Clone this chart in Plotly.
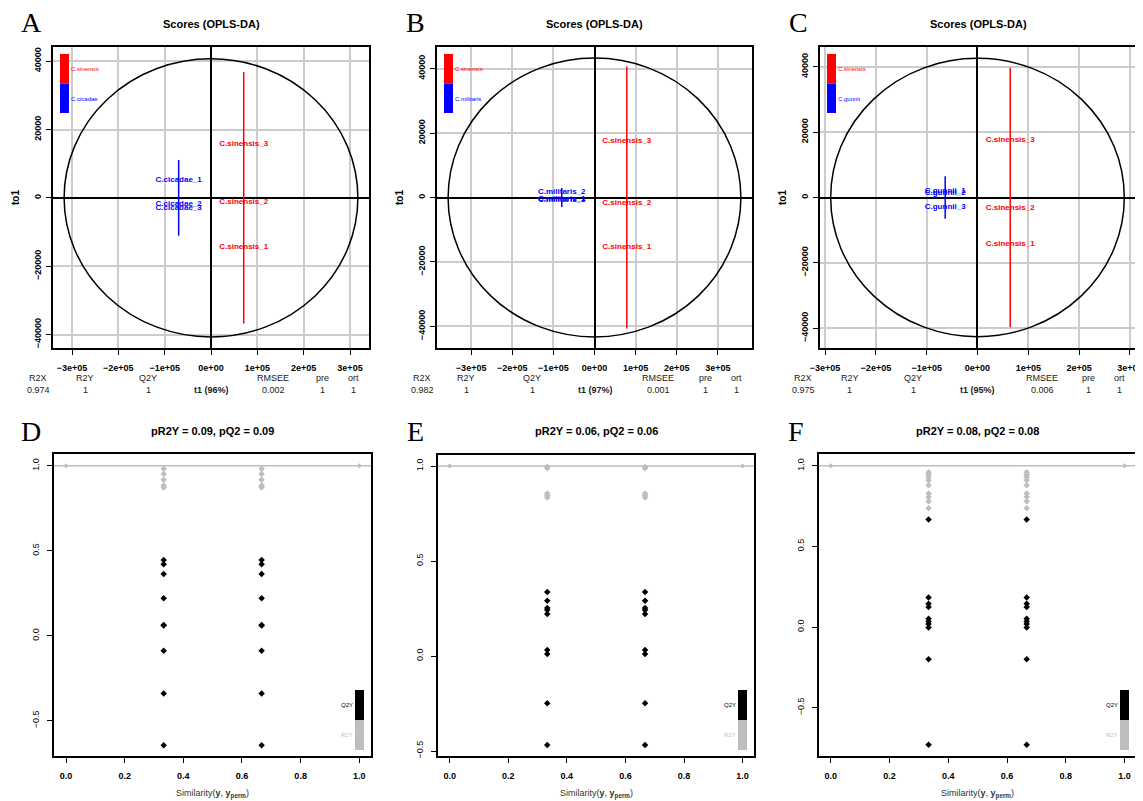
import plotly.graph_objects as go

# page body has an 8px default margin: the figure is drawn 8px in from the top-left
OFF = 8
W, H = 1143 - OFF, 801 - OFF

# ------------------------------------------------------------------ data
panel_letters = ["A", "B", "C", "D", "E", "F"]
ref_group = "C.sinensis"
other_groups = ["C.cicadae", "C.militaris", "C.gunnii"]

# score-plot axis ticks
score_x_ticks = [-300000, -200000, -100000, 0, 100000, 200000, 300000]
score_x_labels = ["−3e+05", "−2e+05", "−1e+05", "0e+00", "1e+05", "2e+05", "3e+05"]
score_y_ticks = [-40000, -20000, 0, 20000, 40000]
score_y_labels = ["−40000", "−20000", "0", "20000", "40000"]

# C.sinensis scores (t1, to1) for panels A, B, C
sin_names = ["C.sinensis_1", "C.sinensis_2", "C.sinensis_3"]
sin_t1_A = [70600, 70600, 70600]
sin_to1_A = [-14300, -1170, 15800]
sin_t1_B = [78600, 78600, 78600]
sin_to1_B = [-15500, -1860, 17460]
sin_t1_C = [64400, 64400, 64400]
sin_to1_C = [-14160, -3270, 17650]

# other-species scores
cic_names = ["C.cicadae_1", "C.cicadae_2", "C.cicadae_3"]
cic_t1 = [-69800, -69800, -69800]
cic_to1 = [5200, -1750, -3100]
mil_names = ["C.militaris_1", "C.militaris_2", "C.militaris_3"]
mil_t1 = [-79600, -79600, -79600]
mil_to1 = [-600, 1640, -900]
gun_names = ["C.gunnii_1", "C.gunnii_2", "C.gunnii_3"]
gun_t1 = [-63600, -63600, -63600]
gun_to1 = [1930, 1430, -2850]

# group ellipses (degenerate: t1 centre, to1 half-height)
sin_ell_t1 = [70600, 78600, 64400]
sin_ell_half = [36800, 40650, 39700]
oth_ell_t1 = [-69800, -79600, -63600]
oth_ell_half = [11100, 2950, 6500]

# Hotelling T2 ellipse half-axes
hot_a = [317000, 356000, 289000]
hot_b = [40700, 43300, 42600]

# model summary
R2X = ["0.974", "0.982", "0.975"]
R2Y = ["1", "1", "1"]
Q2Y = ["1", "1", "1"]
RMSEE = ["0.002", "0.001", "0.006"]
pre = ["1", "1", "1"]
ort = ["1", "1", "1"]
t1_pct = [96, 97, 95]

# permutation tests
pR2Y = ["0.09", "0.06", "0.08"]
pQ2 = ["0.09", "0.06", "0.08"]
perm_sim = [0.333, 0.667]
r2y_perm_D = [0.982, 0.951, 0.917, 0.884, 0.872]
q2y_perm_D = [0.446, 0.421, 0.364, 0.220, 0.063, 0.060, -0.088, -0.340, -0.644]
r2y_perm_E = [0.995, 0.988, 0.855, 0.845, 0.834]
q2y_perm_E = [0.337, 0.291, 0.253, 0.242, 0.221, 0.032, 0.011, -0.249, -0.468]
r2y_perm_F = [0.960, 0.945, 0.930, 0.910, 0.880, 0.828, 0.807, 0.780, 0.737]
q2y_perm_F = [0.667, 0.184, 0.145, 0.124, 0.052, 0.035, 0.019, -0.002, -0.199, -0.729]
model_sim = [0.0, 1.0]
model_r2y = [1.0, 1.0]
perm_x_ticks = [0.0, 0.2, 0.4, 0.6, 0.8, 1.0]
perm_x_labels = ["0.0", "0.2", "0.4", "0.6", "0.8", "1.0"]
perm_y_ticks = [-0.5, 0.0, 0.5, 1.0]
perm_y_labels = ["−0.5", "0.0", "0.5", "1.0"]

# ------------------------------------------------------------------ layout geometry (page pixels)
top_boxes = [(53, 369, 47, 348), (437, 752, 47, 348), (820, 1136, 47, 348)]
bot_boxes = [(54, 371, 454, 756), (438, 754, 455, 756), (819, 1136, 454, 756)]
top_xr = [(-341000, 341000), (-383000, 383000), (-310000, 312000)]
top_yr = [(-43950, 44150), (-46730, 46730), (-46080, 46080)]
bot_xr = [(-0.041, 1.04), (-0.04, 1.039), (-0.04, 1.039)]
bot_yr = [(-0.707, 1.069), (-0.526, 1.058), (-0.799, 1.073)]


def px(x):
    return (x - OFF) / W


def py(y):
    return 1 - (y - OFF) / H


SANS = "Liberation Sans, Arial, sans-serif"
SERIF = "Liberation Serif, Times New Roman, serif"
RED = "#ff0000"
BLUE = "#0000ff"
GRAY = "#bebebe"

fig = go.Figure()
layout = dict(
    width=W, height=H, margin=dict(l=0, r=0, t=0, b=0, autoexpand=False),
    paper_bgcolor="white", plot_bgcolor="white", showlegend=False,
    font=dict(family=SANS, color="black"),
)
shapes = []
annotations = []


def note(x, y, text, size, color="black", family=SANS, xanchor="center", angle=0):
    annotations.append(dict(x=px(x), y=py(y), xref="paper", yref="paper", text=text,
                            showarrow=False, xanchor=xanchor, yanchor="middle", textangle=angle,
                            font=dict(size=size, color=color, family=family)))


sin_t1 = [sin_t1_A, sin_t1_B, sin_t1_C]
sin_to1 = [sin_to1_A, sin_to1_B, sin_to1_C]
oth_names = [cic_names, mil_names, gun_names]
oth_t1 = [cic_t1, mil_t1, gun_t1]
oth_to1 = [cic_to1, mil_to1, gun_to1]

# ---------------- top score plots
for i in range(3):
    k = i + 1
    xa = "x" if k == 1 else f"x{k}"
    ya = "y" if k == 1 else f"y{k}"
    xkey = "xaxis" if k == 1 else f"xaxis{k}"
    ykey = "yaxis" if k == 1 else f"yaxis{k}"
    x0, x1, y0, y1 = top_boxes[i]
    layout[xkey] = dict(
        domain=[px(x0), px(x1)], anchor=ya, range=list(top_xr[i]), automargin=False,
        tickvals=score_x_ticks, ticktext=score_x_labels,
        ticks="outside", ticklen=5, tickcolor="black", tickwidth=1,
        tickfont=dict(size=9, family=SANS, weight="bold", color="black"),
        ticklabelstandoff=5,
        showline=True, linecolor="black", linewidth=1.5, mirror=True,
        showgrid=True, gridcolor="#cccccc", gridwidth=2,
        zeroline=True, zerolinecolor="black", zerolinewidth=1.5,
    )
    layout[ykey] = dict(
        domain=[py(y1), py(y0)], anchor=xa, range=list(top_yr[i]), automargin=False,
        tickvals=score_y_ticks, ticktext=score_y_labels, tickangle=-90,
        ticks="outside", ticklen=5, tickcolor="black", tickwidth=1,
        tickfont=dict(size=9, family=SANS, weight="bold", color="black"),
        ticklabelstandoff=2,
        showline=True, linecolor="black", linewidth=1.5, mirror=True,
        showgrid=True, gridcolor="#cccccc", gridwidth=2,
        zeroline=True, zerolinecolor="black", zerolinewidth=1.5,
    )
    # Hotelling ellipse
    shapes.append(dict(type="circle", xref=xa, yref=ya,
                       x0=-hot_a[i], x1=hot_a[i], y0=-hot_b[i], y1=hot_b[i],
                       line=dict(color="black", width=1.5), layer="above"))
    # group ellipses (degenerate lines)
    fig.add_trace(go.Scatter(x=[sin_ell_t1[i], sin_ell_t1[i]], y=[-sin_ell_half[i], sin_ell_half[i]],
                             mode="lines", line=dict(color=RED, width=1.5), xaxis=xa, yaxis=ya,
                             hoverinfo="skip"))
    fig.add_trace(go.Scatter(x=[oth_ell_t1[i], oth_ell_t1[i]], y=[-oth_ell_half[i], oth_ell_half[i]],
                             mode="lines", line=dict(color=BLUE, width=1.5), xaxis=xa, yaxis=ya,
                             hoverinfo="skip"))
    fig.add_trace(go.Scatter(x=sin_t1[i], y=sin_to1[i], text=sin_names, mode="text",
                             textfont=dict(color=RED, size=8, family=SANS, weight="bold"),
                             xaxis=xa, yaxis=ya))
    fig.add_trace(go.Scatter(x=oth_t1[i], y=oth_to1[i], text=oth_names[i], mode="text",
                             textfont=dict(color=BLUE, size=8, family=SANS, weight="bold"),
                             xaxis=xa, yaxis=ya))
    # colour legend bars
    lx0 = x0 + 7
    shapes.append(dict(type="rect", xref="paper", yref="paper", x0=px(lx0), x1=px(lx0 + 9),
                       y0=py(83.5), y1=py(54), fillcolor=RED, line=dict(width=0)))
    shapes.append(dict(type="rect", xref="paper", yref="paper", x0=px(lx0), x1=px(lx0 + 9),
                       y0=py(113), y1=py(83.5), fillcolor=BLUE, line=dict(width=0)))
    note(lx0 + 9, 69, ref_group, 6, RED, xanchor="left")
    note(lx0 + 9, 99, other_groups[i], 6, BLUE, xanchor="left")
    # title / letter / ylab
    cx = (x0 + x1) / 2
    note(cx, 24, "<b>Scores (OPLS-DA)</b>", 11)
    note(x0 - 22, 23, panel_letters[i], 28, family=SERIF)
    note(x0 - 38, 198, "<b>to1</b>", 10, angle=-90)

# summary text rows below score plots
sum_xpos = [
    [38, 85, 148, 211, 273, 322, 353],
    [422, 466, 532, 595, 658, 705, 736],
    [803, 850, 913, 977, 1042, 1088, 1119],
]
for i in range(3):
    heads = ["R2X", "R2Y", "Q2Y", "", "RMSEE", "pre", "ort"]
    vals = [R2X[i], R2Y[i], Q2Y[i], f"<b>t1 ({t1_pct[i]}%)</b>", RMSEE[i], pre[i], ort[i]]
    for j in range(7):
        if heads[j]:
            note(sum_xpos[i][j], 378.5, heads[j], 9, "#222")
        note(sum_xpos[i][j], 389.5, vals[j], 9, "#222")

# ---------------- bottom permutation plots
r2y_perm = [r2y_perm_D, r2y_perm_E, r2y_perm_F]
q2y_perm = [q2y_perm_D, q2y_perm_E, q2y_perm_F]
for i in range(3):
    k = i + 4
    xa, ya = f"x{k}", f"y{k}"
    x0, x1, y0, y1 = bot_boxes[i]
    layout[f"xaxis{k}"] = dict(
        domain=[px(x0), px(x1)], anchor=ya, range=list(bot_xr[i]), automargin=False,
        tickvals=perm_x_ticks, ticktext=perm_x_labels,
        ticks="outside", ticklen=5, tickcolor="black", tickwidth=1,
        tickfont=dict(size=9, family=SANS, weight="bold", color="black"),
        ticklabelstandoff=5,
        showline=True, linecolor="black", linewidth=1.5, mirror=True,
        showgrid=False, zeroline=False,
    )
    layout[f"yaxis{k}"] = dict(
        domain=[py(y1), py(y0)], anchor=xa, range=list(bot_yr[i]), automargin=False,
        tickvals=perm_y_ticks, ticktext=perm_y_labels, tickangle=-90,
        ticks="outside", ticklen=5, tickcolor="black", tickwidth=1,
        tickfont=dict(size=9, family=SANS, color="black"),
        ticklabelstandoff=5,
        showline=True, linecolor="black", linewidth=1.5, mirror=True,
        showgrid=False, zeroline=False,
    )
    # reference line at model R2Y
    shapes.append(dict(type="line", xref=f"{xa} domain", yref=ya, x0=0, x1=1,
                       y0=model_r2y[1], y1=model_r2y[1], line=dict(color=GRAY, width=1.5), layer="below"))
    gx, gy, bx, by = [], [], [], []
    for s in perm_sim:
        gx += [s] * len(r2y_perm[i])
        gy += r2y_perm[i]
        bx += [s] * len(q2y_perm[i])
        by += q2y_perm[i]
    fig.add_trace(go.Scatter(x=model_sim, y=model_r2y, mode="markers",
                             marker=dict(symbol="diamond", size=4, color=GRAY), xaxis=xa, yaxis=ya))
    fig.add_trace(go.Scatter(x=gx, y=gy, mode="markers",
                             marker=dict(symbol="diamond", size=5, color=GRAY), xaxis=xa, yaxis=ya))
    fig.add_trace(go.Scatter(x=bx, y=by, mode="markers",
                             marker=dict(symbol="diamond", size=5, color="black"), xaxis=xa, yaxis=ya))
    # legend bars
    lx1 = x1 - 7
    shapes.append(dict(type="rect", xref="paper", yref="paper", x0=px(lx1 - 9), x1=px(lx1),
                       y0=py(720), y1=py(690), fillcolor="black", line=dict(width=0)))
    shapes.append(dict(type="rect", xref="paper", yref="paper", x0=px(lx1 - 9), x1=px(lx1),
                       y0=py(750), y1=py(720), fillcolor=GRAY, line=dict(width=0)))
    note(lx1 - 9, 705, "Q2Y", 6, "black", xanchor="right")
    note(lx1 - 9, 735, "R2Y", 6, GRAY, xanchor="right")
    cx = (x0 + x1) / 2
    note(cx, 431, f"<b>pR2Y = {pR2Y[i]}, pQ2 = {pQ2[i]}</b>", 11)
    note(x0 - 23, 431, panel_letters[i + 3], 28, family=SERIF)
    note(cx, 794, "Similarity(<b>y</b>, <b>y</b><sub><b>perm</b></sub>)", 9, "#333")

layout["shapes"] = shapes
layout["annotations"] = annotations
fig.update_layout(**layout)
fig.write_html("out.html")
